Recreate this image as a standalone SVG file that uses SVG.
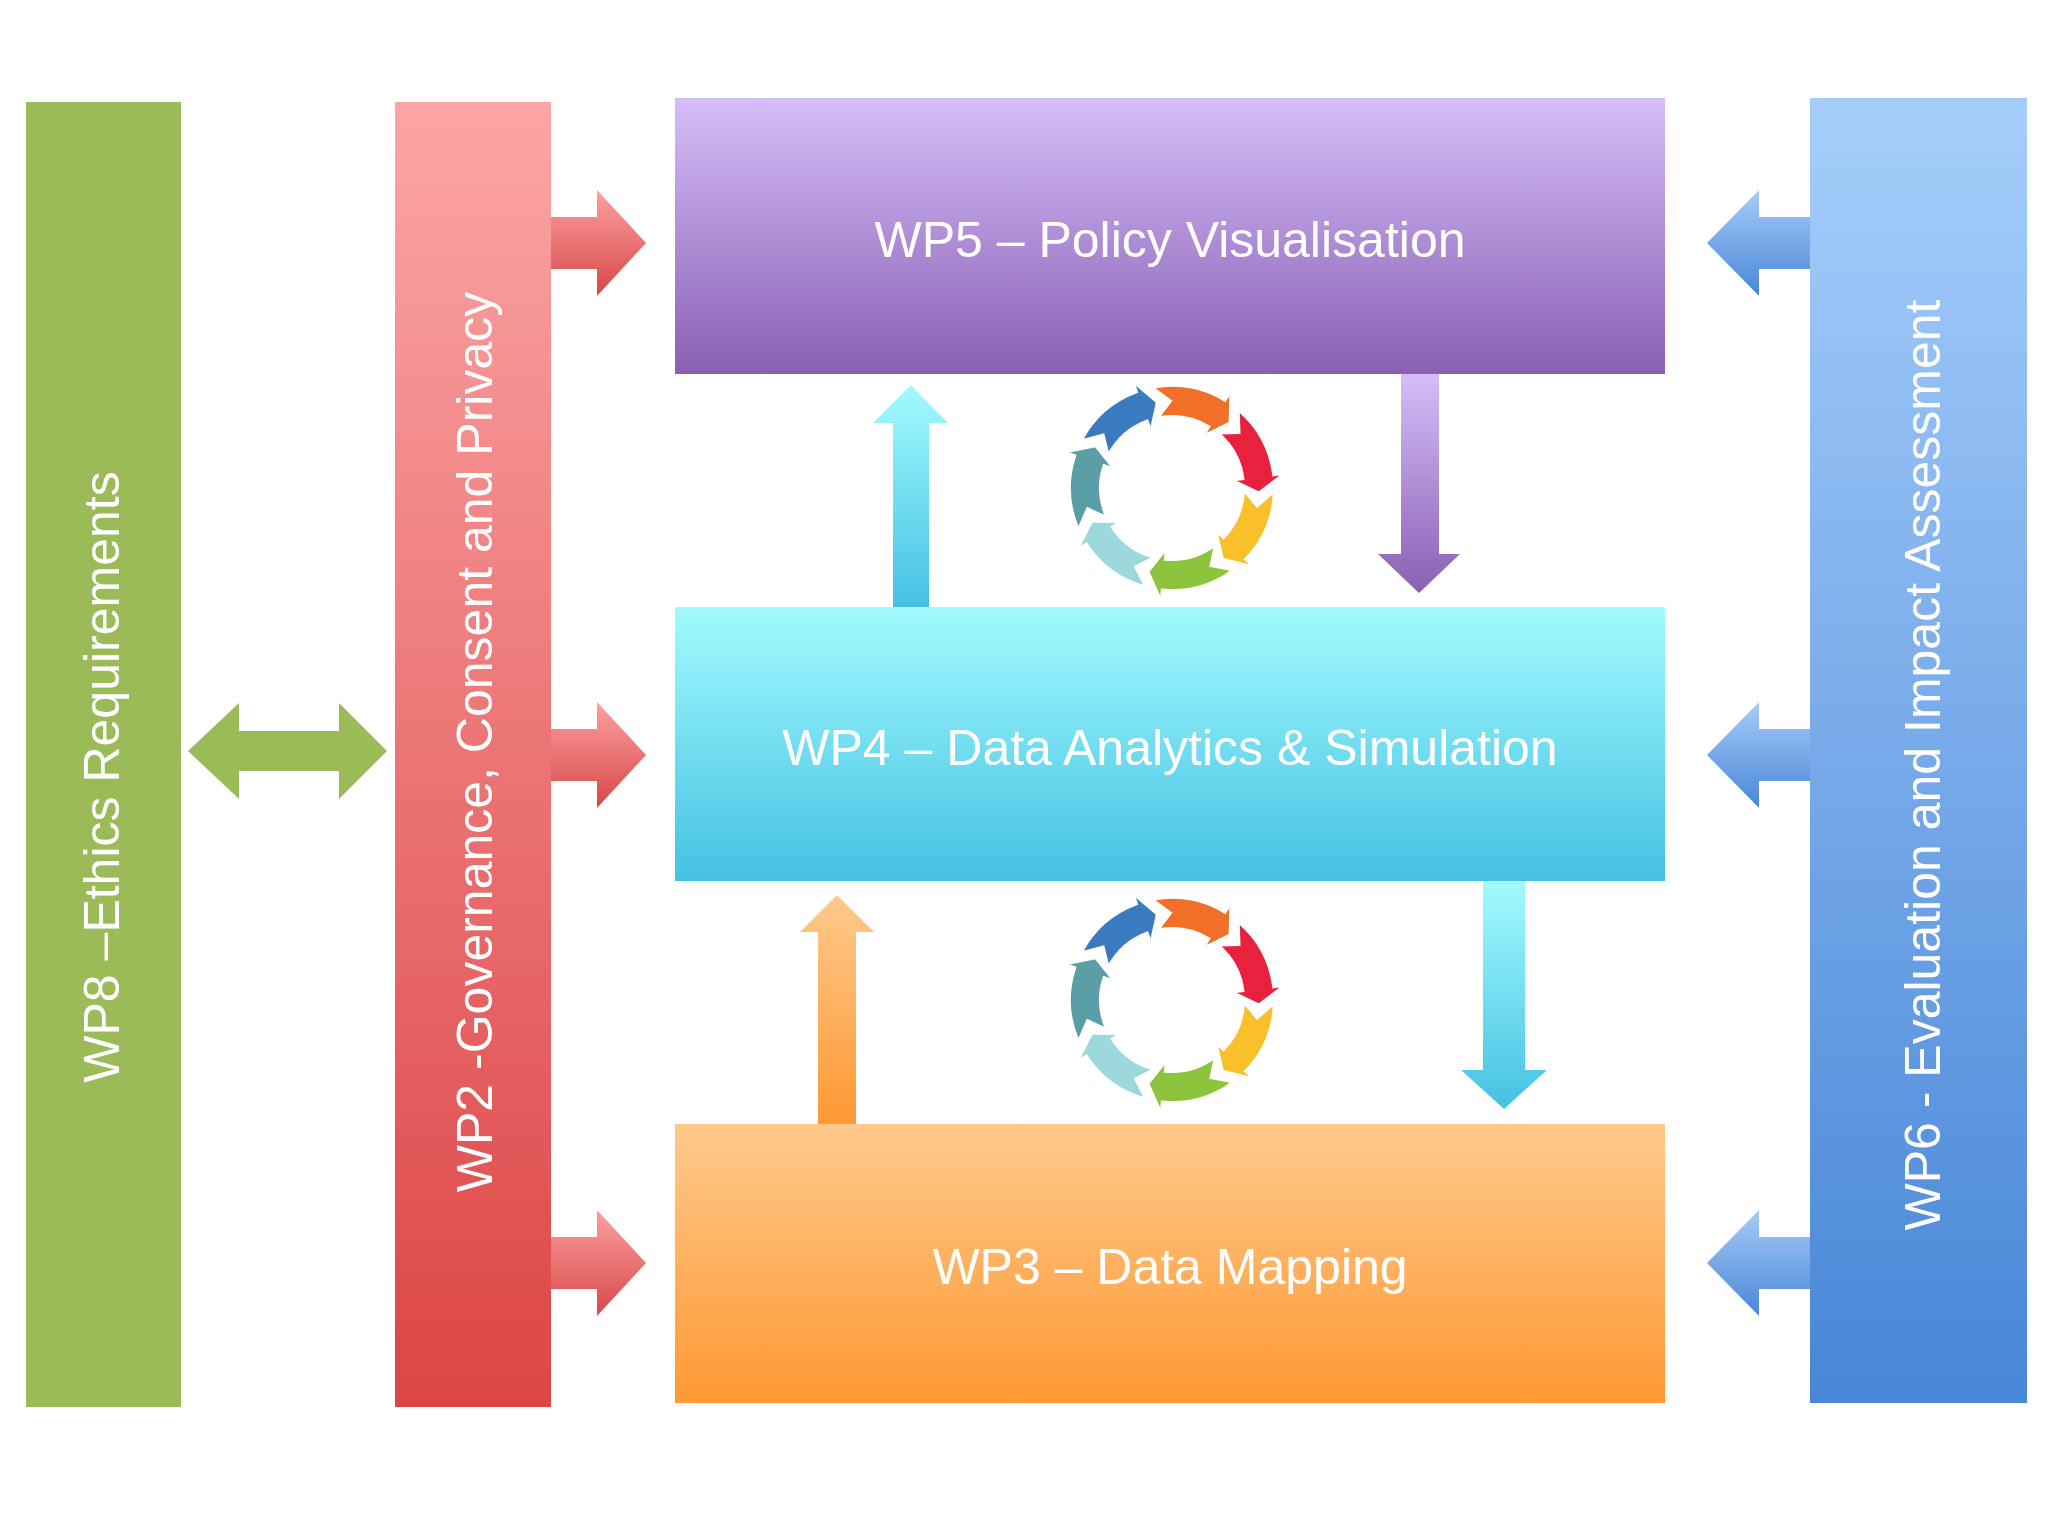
<svg xmlns="http://www.w3.org/2000/svg" width="2048" height="1536" viewBox="0 0 2048 1536">
<defs>
<linearGradient id="gRed" x1="0" y1="0" x2="0" y2="1"><stop offset="0" stop-color="#FCA5A5"/><stop offset="1" stop-color="#DC4545"/></linearGradient>
<linearGradient id="gPur" x1="0" y1="0" x2="0" y2="1"><stop offset="0" stop-color="#D5BDF8"/><stop offset="1" stop-color="#8A60B4"/></linearGradient>
<linearGradient id="gCyan" x1="0" y1="0" x2="0" y2="1"><stop offset="0" stop-color="#A2FBFE"/><stop offset="1" stop-color="#45C1E3"/></linearGradient>
<linearGradient id="gOra" x1="0" y1="0" x2="0" y2="1"><stop offset="0" stop-color="#FFC98C"/><stop offset="1" stop-color="#FE9933"/></linearGradient>
<linearGradient id="gBlue" x1="0" y1="0" x2="0" y2="1"><stop offset="0" stop-color="#A6CEFB"/><stop offset="1" stop-color="#4886D7"/></linearGradient>
<linearGradient id="gRedA" x1="0" y1="0" x2="0" y2="1"><stop offset="0" stop-color="#FCA0A0"/><stop offset="1" stop-color="#D84848"/></linearGradient>
<linearGradient id="gBlueA" x1="0" y1="0" x2="0" y2="1"><stop offset="0" stop-color="#A6CCF8"/><stop offset="1" stop-color="#4A86D8"/></linearGradient>
<path id="seg" d="M0,-102 A102,102 0 0 1 68.25,-75.8 L74.94,-83.23 L68.56,-53.57 L41.48,-46.07 L48.18,-53.5 A72,72 0 0 0 0,-72 L15.11,-85.68 Z" stroke="#fff" stroke-width="2"/>
<g id="cycle">
<use href="#seg" fill="#3A7BC0" transform="rotate(-62)"/>
<use href="#seg" fill="#F07028" transform="rotate(-10.57)"/>
<use href="#seg" fill="#E8213F" transform="rotate(40.86)"/>
<use href="#seg" fill="#F8C02A" transform="rotate(92.29)"/>
<use href="#seg" fill="#8CC43C" transform="rotate(143.72)"/>
<use href="#seg" fill="#9CD8DC" transform="rotate(195.15)"/>
<use href="#seg" fill="#5C9EA8" transform="rotate(246.58)"/>
</g>
</defs>
<style>
text{font-family:"Liberation Sans",Arial,sans-serif;font-size:50px;fill:#fff;text-anchor:middle;dominant-baseline:central}
</style>
<rect width="2048" height="1536" fill="#fff"/>
<g id="wp8"><rect x="26" y="102" width="155" height="1305" fill="#9BBB59"/><text transform="translate(102,777) rotate(-90)">WP8 –Ethics Requirements</text></g>
<g id="wp2"><rect x="395" y="102" width="156" height="1305" fill="url(#gRed)"/><text transform="translate(475,742) rotate(-90)">WP2 -Governance, Consent and Privacy</text></g>
<g id="wp5"><rect x="675" y="98" width="990" height="276" fill="url(#gPur)"/><text x="1170" y="240">WP5 – Policy Visualisation</text></g>
<g id="wp4"><rect x="675" y="607" width="990" height="274" fill="url(#gCyan)"/><text x="1170" y="748">WP4 – Data Analytics &amp; Simulation</text></g>
<g id="wp3"><rect x="675" y="1124" width="990" height="279" fill="url(#gOra)"/><text x="1170" y="1267">WP3 – Data Mapping</text></g>
<g id="wp6"><rect x="1810" y="98" width="217" height="1305" fill="url(#gBlue)"/><text transform="translate(1923,765) rotate(-90)">WP6 - Evaluation and Impact Assessment</text></g>
<g id="connectors">
<path d="M551,217 H597 V190 L646,243 L597,296 V269 H551 Z" fill="url(#gRedA)"/>
<path d="M551,729 H597 V702 L646,755 L597,808 V781 H551 Z" fill="url(#gRedA)"/>
<path d="M551,1237 H597 V1210 L646,1263 L597,1316 V1289 H551 Z" fill="url(#gRedA)"/>
<path d="M1810,217 H1759 V190 L1707,243 L1759,296 V269 H1810 Z" fill="url(#gBlueA)"/>
<path d="M1810,729 H1759 V702 L1707,755 L1759,808 V781 H1810 Z" fill="url(#gBlueA)"/>
<path d="M1810,1237 H1759 V1210 L1707,1263 L1759,1316 V1289 H1810 Z" fill="url(#gBlueA)"/>
<path d="M188,751 L239,703 V731 H339 V703 L387,751 L339,799 V771 H239 V799 Z" fill="#9BBB59"/>
<path d="M893,607 V423 H873 L911,385 L948,423 H929 V607 Z" fill="url(#gCyan)"/>
<path d="M1401,374 V554 H1378 L1419,593 L1460,554 H1439 V374 Z" fill="url(#gPur)"/>
<path d="M818,1124 V932 H800 L837,895 L874,932 H856 V1124 Z" fill="url(#gOra)"/>
<path d="M1483,881 V1070 H1461 L1504,1109 L1547,1070 H1525 V881 Z" fill="url(#gCyan)"/>
</g>
<g id="cycle1"><use href="#cycle" transform="translate(1172,488)"/></g>
<g id="cycle2"><use href="#cycle" transform="translate(1172,1000)"/></g>
</svg>
